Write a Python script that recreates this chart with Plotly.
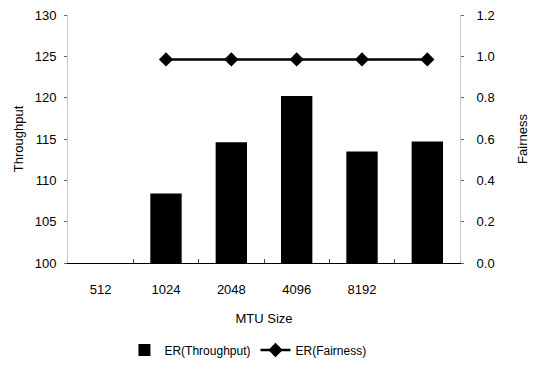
import plotly.graph_objects as go

# MTU sizes on the category axis (the sixth slot carries no label)
mtu_labels = ["512", "1024", "2048", "4096", "8192", " "]
throughput = [None, 108.4, 114.6, 120.2, 113.5, 114.7]
fairness = [None, 0.985, 0.985, 0.985, 0.985, 0.985]

FONT = "Liberation Sans, Arial, sans-serif"
AXIS_FLOOR = 100

fig = go.Figure()

# bars rise from the axis floor of 100
fig.add_trace(go.Bar(
    x=mtu_labels,
    y=[None if v is None else v - AXIS_FLOOR for v in throughput],
    base=AXIS_FLOOR,
    name="ER(Throughput)",
    marker=dict(color="black", line=dict(width=0)),
))

fig.add_trace(go.Scatter(
    x=mtu_labels, y=fairness, name="ER(Fairness)", yaxis="y2",
    mode="lines+markers",
    line=dict(color="black", width=2.5),
    marker=dict(symbol="diamond", size=11, color="black"),
))

fig.update_layout(
    width=539, height=370,
    margin=dict(l=68, r=79, t=15, b=107, autoexpand=False),
    paper_bgcolor="white", plot_bgcolor="white",
    font=dict(family=FONT, size=13, color="black"),
    bargap=0.52,
    showlegend=True,
    legend=dict(orientation="h", xref="container", yref="container",
                x=0.46, xanchor="center", y=0.054, yanchor="middle",
                font=dict(size=12), itemwidth=30),
    xaxis=dict(
        type="category", categoryorder="array", categoryarray=mtu_labels,
        showline=True, linecolor="black", linewidth=1,
        ticks="inside", ticklen=4, tickson="boundaries", tickcolor="#444",
        ticklabelstandoff=14,
        showgrid=False, zeroline=False, automargin=False,
        title=dict(text="MTU Size", standoff=18, font=dict(size=13)),
    ),
    yaxis=dict(
        range=[100, 130], dtick=5, tickformat="d",
        showline=True, linecolor="#c8c8c8", linewidth=1,
        ticks="outside", ticklen=3, tickcolor="#666",
        ticklabelstandoff=5,
        showgrid=False, zeroline=False, automargin=False,
        title=dict(text="Throughput", standoff=8, font=dict(size=13)),
    ),
    yaxis2=dict(
        range=[0, 1.2], dtick=0.2, tickformat=".1f",
        overlaying="y", side="right",
        showline=True, linecolor="#c8c8c8", linewidth=1,
        ticks="outside", ticklen=3, tickcolor="#666",
        ticklabelstandoff=10,
        showgrid=False, zeroline=False, automargin=False,
        title=dict(text="Fairness", standoff=24, font=dict(size=13)),
    ),
)

fig.write_html("out.html")
